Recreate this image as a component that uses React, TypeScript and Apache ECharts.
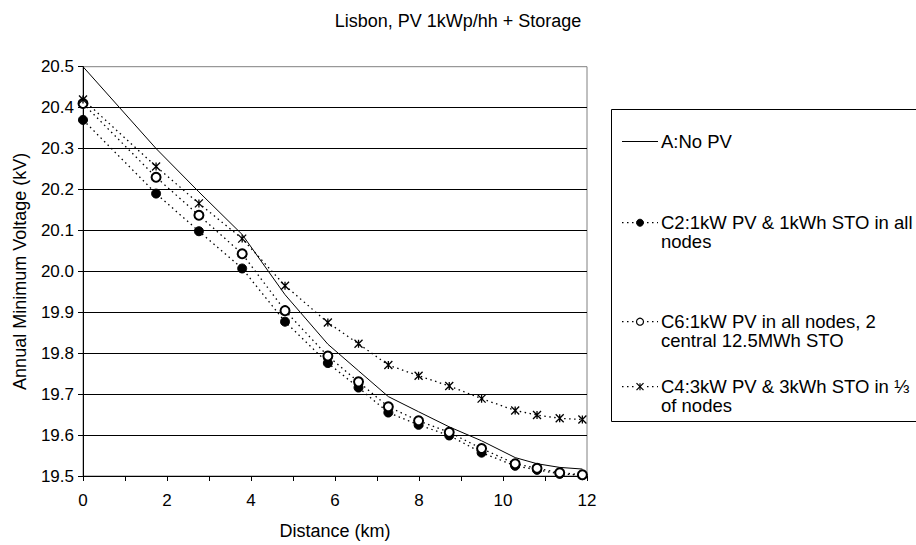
import React, { useEffect, useRef } from "react";
import * as echarts from "echarts";

const distanceKm = [0, 1.74, 2.76, 3.79, 4.81, 5.83, 6.56, 7.27, 7.99, 8.72, 9.49, 10.29, 10.81, 11.35, 11.89];
const seriesA = [20.5, 20.3, 20.194, 20.09, 19.943, 19.822, 19.757, 19.694, 19.657, 19.62, 19.586, 19.545, 19.53, 19.521, 19.517];
const seriesC2 = [20.37, 20.19, 20.098, 20.007, 19.877, 19.776, 19.716, 19.655, 19.625, 19.599, 19.557, 19.525, 19.515, 19.505, 19.502];
const seriesC6 = [20.41, 20.23, 20.137, 20.043, 19.904, 19.793, 19.73, 19.669, 19.635, 19.607, 19.567, 19.53, 19.519, 19.508, 19.503];
const seriesC4 = [20.42, 20.256, 20.166, 20.08, 19.965, 19.875, 19.823, 19.771, 19.745, 19.72, 19.689, 19.66, 19.649, 19.641, 19.638];

const seriesNames = [
  "A:No PV",
  "C2:1kW PV & 1kWh STO in all nodes",
  "C6:1kW PV in all nodes, 2 central 12.5MWh STO",
  "C4:3kW PV & 3kWh STO in ⅓ of nodes",
];
const legendLabels = [
  "A:No PV",
  "C2:1kW PV & 1kWh STO in all\nnodes",
  "C6:1kW PV in all nodes, 2\ncentral 12.5MWh STO",
  "C4:3kW PV & 3kWh STO in ⅓\nof nodes",
];
const titleText = "Lisbon, PV 1kWp/hh + Storage";
const xName = "Distance (km)";
const yName = "Annual Minimum Voltage (kV)";

const FONT = "'Liberation Sans', Arial, sans-serif";
const STAR = "path://M0,0 L10,10 M0,10 L10,0 M5,0 L5,10";
const DOT: number[] = [1.5, 3.5];

const pts = (ys: number[]) => distanceKm.map((x, i) => [x, ys[i]]);

export default function App() {
  const ref = useRef<HTMLDivElement>(null);
  useEffect(() => {
    if (!ref.current) return;
    const chart = echarts.init(ref.current, undefined, { renderer: "svg" });

    const legendY = [141.5, 222.7, 321.7, 386.7];
    const legendGraphics: any[] = [
      {
        type: "rect",
        shape: { x: 611.5, y: 109.5, width: 320, height: 312 },
        style: { fill: "#fff", stroke: "#000", lineWidth: 1 },
        z: 10,
      },
    ];
    legendLabels.forEach((label, i) => {
      const cy = legendY[i];
      legendGraphics.push({
        type: "line",
        shape: { x1: 622, y1: cy, x2: 658, y2: cy },
        style: { stroke: "#000", lineWidth: i === 0 ? 1 : 1.3, lineDash: i === 0 ? null : DOT },
        z: 11,
      });
      if (i === 1) {
        legendGraphics.push({ type: "circle", shape: { cx: 640, cy, r: 3.5 }, style: { fill: "#000", stroke: "#000" }, z: 12 });
      } else if (i === 2) {
        legendGraphics.push({ type: "circle", shape: { cx: 640, cy, r: 3.5 }, style: { fill: "#fff", stroke: "#000", lineWidth: 1.2 }, z: 12 });
      } else if (i === 3) {
        legendGraphics.push({ type: "rect", shape: { x: 635, y: cy - 5, width: 10, height: 10 }, style: { fill: "#fff", stroke: null }, z: 12 });
        legendGraphics.push({ type: "line", shape: { x1: 636.5, y1: cy - 3.5, x2: 643.5, y2: cy + 3.5 }, style: { stroke: "#000", lineWidth: 1.2 }, z: 13 });
        legendGraphics.push({ type: "line", shape: { x1: 636.5, y1: cy + 3.5, x2: 643.5, y2: cy - 3.5 }, style: { stroke: "#000", lineWidth: 1.2 }, z: 13 });
        legendGraphics.push({ type: "line", shape: { x1: 640, y1: cy - 3.5, x2: 640, y2: cy + 3.5 }, style: { stroke: "#000", lineWidth: 1.2 }, z: 13 });
      }
      legendGraphics.push({
        type: "text",
        x: 661,
        y: cy - 9.8,
        style: {
          text: label,
          font: `18.5px ${FONT}`,
          fill: "#000",
          lineHeight: 19,
          verticalAlign: "top",
          align: "left",
        },
        z: 12,
      });
    });

    const option: any = {
      animation: false,
      backgroundColor: "#fff",
      title: {
        text: titleText,
        left: "center",
        top: 7,
        textStyle: { fontFamily: FONT, fontSize: 18, fontWeight: "normal", color: "#000" },
      },
      grid: {
        left: 83,
        right: 329,
        top: 66.7,
        bottom: 68,
        show: true,
        borderColor: "#808080",
        borderWidth: 1,
        containLabel: false,
      },
      xAxis: {
        type: "value",
        min: 0,
        max: 12,
        interval: 1,
        name: xName,
        nameLocation: "middle",
        nameGap: 46,
        nameTextStyle: { fontFamily: FONT, fontSize: 18, color: "#000" },
        axisLine: { show: true, lineStyle: { color: "#000", width: 1 } },
        axisTick: { show: true, inside: false, length: 5, lineStyle: { color: "#000" } },
        axisLabel: {
          margin: 16,
          fontFamily: FONT,
          fontSize: 17,
          color: "#000",
          formatter: (v: number) => (Math.round(v) % 2 === 0 ? String(Math.round(v)) : ""),
        },
        splitLine: { show: false },
      },
      yAxis: {
        type: "value",
        min: 19.5,
        max: 20.5,
        interval: 0.1,
        name: yName,
        nameLocation: "middle",
        nameGap: 54,
        nameRotate: 90,
        nameTextStyle: { fontFamily: FONT, fontSize: 18, color: "#000" },
        axisLine: { show: true, lineStyle: { color: "#000", width: 1 } },
        axisTick: { show: true, inside: false, length: 5, lineStyle: { color: "#000" } },
        axisLabel: {
          margin: 9,
          fontFamily: FONT,
          fontSize: 17,
          color: "#000",
          formatter: (v: number) => v.toFixed(1),
        },
        splitLine: { show: true, showMinLine: false, showMaxLine: false, lineStyle: { color: "#000", width: 1 } },
      },
      series: [
        {
          name: seriesNames[0],
          type: "line",
          data: pts(seriesA),
          showSymbol: false,
          symbol: "none",
          lineStyle: { color: "#000", width: 1 },
          z: 5,
        },
        {
          name: seriesNames[1],
          type: "line",
          data: pts(seriesC2),
          symbol: "circle",
          symbolSize: 9,
          itemStyle: { color: "#000", borderColor: "#000", borderWidth: 1 },
          lineStyle: { color: "#000", width: 1.3, type: DOT },
          z: 6,
        },
        {
          name: seriesNames[2],
          type: "line",
          data: pts(seriesC6),
          symbol: "emptyCircle",
          symbolSize: 9,
          itemStyle: { color: "#000", borderColor: "#000", borderWidth: 1.3 },
          lineStyle: { color: "#000", width: 1.3, type: DOT },
          z: 7,
        },
        {
          name: seriesNames[3],
          type: "line",
          data: pts(seriesC4),
          symbol: STAR,
          symbolSize: 8,
          itemStyle: { color: "#000", borderColor: "#000", borderWidth: 1.3 },
          lineStyle: { color: "#000", width: 1.3, type: DOT },
          z: 8,
        },
      ],
      graphic: legendGraphics,
    };
    chart.setOption(option);
    return () => chart.dispose();
  }, []);

  return <div ref={ref} style={{ width: 916, height: 545, position: "fixed", left: 0, top: 0, background: "#fff" }} />;
}
